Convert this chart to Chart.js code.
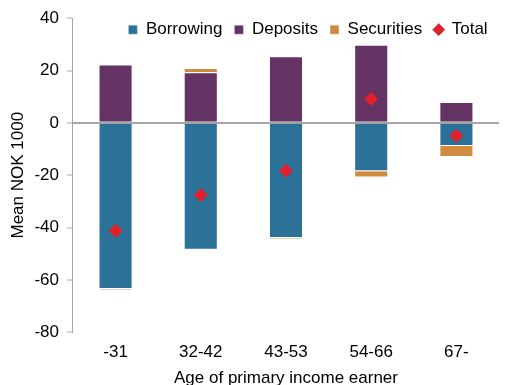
<!DOCTYPE html>
<html>
<head>
<meta charset="utf-8">
<script src="https://cdn.jsdelivr.net/npm/chart.js@4.4.1/dist/chart.umd.min.js"></script>
<style>
  html, body { margin: 0; padding: 0; background: #fff; }
  #wrap { width: 506px; height: 385px; }
</style>
</head>
<body>
<div id="wrap"><canvas id="chart"></canvas></div>
<script>
// age groups of the primary income earner
const ageGroups = ["-31", "32-42", "43-53", "54-66", "67-"];

// mean NOK 1000
const borrowing = [-63.5, -48.5, -44, -18.5, -8.8];
const deposits = [22.3, 19.3, 25.5, 29.9, 8];
const securities = [-0.3, 1.7, -0.3, -2.4, -4.2];
const total = [-41.2, -27.6, -18.3, 9.1, -4.9];

const yTicks = [-80, -60, -40, -20, 0, 20, 40];

Chart.defaults.font.family = "'Liberation Sans', Arial, sans-serif";
Chart.defaults.font.size = 17;
Chart.defaults.color = "#000";

// legend sits inside the plot: take no layout height, keep its real size for drawing
const flatLegend = {
    id: 'flatLegend',
    afterInit(chart) {
        const legend = chart.legend;
        const fit = legend.fit;
        legend.fit = function () {
            fit.call(this);
            this._realHeight = this.height;
            this.height = 0;
        };
    },
    afterLayout(chart) {
        const legend = chart.legend;
        legend.top -= 9;
        legend.height = legend._realHeight;
        legend.bottom = legend.top + legend._realHeight;
        legend.left += 48;
        legend.right += 48;
    }
};

new Chart(document.getElementById("chart"), {
    type: 'bar',
    data: {
        labels: ageGroups,
        datasets: [
            {
                label: "Borrowing",
                data: borrowing,
                backgroundColor: "#2C7197",
                borderColor: "rgba(255,255,255,0.35)",
                borderWidth: 1,
                pointStyle: 'rect',
                stack: 'parts',
                order: 2
            },
            {
                label: "Deposits",
                data: deposits,
                backgroundColor: "#643263",
                borderColor: "rgba(255,255,255,0.35)",
                borderWidth: 1,
                pointStyle: 'rect',
                stack: 'parts',
                order: 2
            },
            {
                label: "Securities",
                data: securities,
                backgroundColor: "#D08B40",
                borderColor: "rgba(255,255,255,0.35)",
                borderWidth: 1,
                pointStyle: 'rect',
                stack: 'parts',
                order: 2
            },
            {
                type: 'line',
                label: "Total",
                data: total,
                showLine: false,
                pointStyle: 'rectRot',
                pointRadius: 7,
                pointHoverRadius: 7,
                backgroundColor: "#E0202B",
                borderColor: "#E0202B",
                borderWidth: 0,
                stack: 'total',
                order: 1
            }
        ]
    },
    options: {
        responsive: true,
        maintainAspectRatio: false,
        animation: false,
        layout: { padding: { top: 8, right: -6, left: 8, bottom: -4 } },
        datasets: {
            bar: { categoryPercentage: 0.4, barPercentage: 1 }
        },
        plugins: {
            legend: {
                display: true,
                position: 'top',
                align: 'center',
                labels: {
                    usePointStyle: true,
                    boxWidth: 9,
                    boxHeight: 9,
                    padding: 12,
                    font: { size: 17 },
                    sort: (a, b) => a.datasetIndex - b.datasetIndex
                }
            },
            tooltip: { enabled: false }
        },
        scales: {
            x: {
                stacked: true,
                grid: { display: false, drawTicks: false },
                border: { display: false },
                ticks: { padding: 10 },
                title: {
                    display: true,
                    text: "Age of primary income earner",
                    padding: { top: -4, bottom: 0 }
                }
            },
            y: {
                stacked: true,
                min: -80,
                max: 40,
                afterBuildTicks: axis => { axis.ticks = yTicks.map(v => ({ value: v })); },
                grid: {
                    color: ctx => ctx.tick && ctx.tick.value === 0 ? "#A6A6A6" : "rgba(0,0,0,0)",
                    lineWidth: 2,
                    tickColor: "#A6A6A6",
                    tickLength: 6,
                    tickWidth: 1
                },
                border: { display: true, color: "#A6A6A6", width: 1 },
                ticks: { padding: 8 },
                title: {
                    display: true,
                    text: "Mean NOK 1000",
                    padding: { top: 0, bottom: -2 }
                }
            }
        }
    },
    plugins: [flatLegend]
});
</script>
</body>
</html>
